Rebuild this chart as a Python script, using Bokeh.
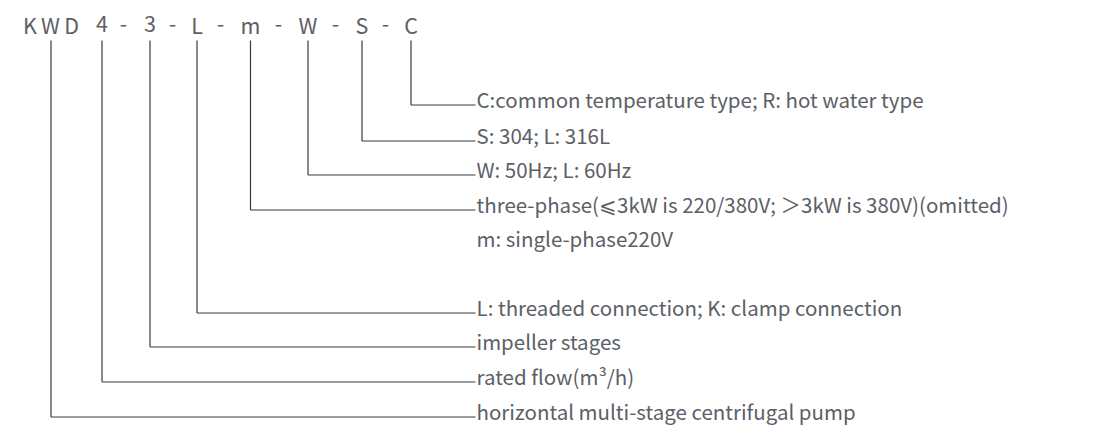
from bokeh.plotting import figure
from bokeh.models import Range1d
from bokeh.core.properties import value
from bokeh.embed import file_html
from bokeh.resources import INLINE

# ---- content ----
codes = ["K\u2009W\u2009D", "4", "3", "L", "m", "W", "S", "C"]
descriptions = [
    "horizontal multi-stage centrifugal pump",
    "rated flow(m\u00b3/h)",
    "impeller stages",
    "L: threaded connection; K: clamp connection",
    "three-phase(\u2a7d3kW is 220/380V; \uff1e3kW is 380V)(omitted)",
    "W: 50Hz; L: 60Hz",
    "S: 304; L: 316L",
    "C:common temperature type; R: hot water type",
]
extra_lines = ["m: single-phase220V"]

# ---- layout (pixel coordinates) ----
code_x = [50.5, 101.5, 149.5, 196.5, 250, 307.5, 361.5, 410.5]
dash_x = [123, 172, 220, 278, 335, 385]
row_y = [416.5, 381.5, 346.5, 312.5, 209.5, 174.5, 140.5, 104.5]
extra_y = [243.5]
title_y = 23.5
line_top = 40
text_x = 476
text_shift = -6.5

FONT = value("Noto Sans CJK SC")
TEXT_COLOR = "#5c6065"
LINE_COLOR = "#3a3a3a"

p = figure(width=1112, height=430, output_backend="svg", toolbar_location=None,
           x_range=Range1d(0, 1112), y_range=Range1d(430, 0),
           min_border=0, outline_line_color=None)
p.axis.visible = False
p.grid.visible = False
p.background_fill_color = "white"
p.border_fill_color = "white"

# code letters
p.text(x=code_x, y=[title_y] * len(codes), text=codes, text_font=FONT,
       text_font_size="21.5px", text_align="center", text_baseline="alphabetic",
       text_color=TEXT_COLOR)
p.text(x=dash_x, y=[title_y] * len(dash_x), text=["-"] * len(dash_x), text_font=FONT,
       text_font_size="21.5px", text_align="center", text_baseline="alphabetic",
       text_color=TEXT_COLOR)

# connectors
p.segment(x0=code_x, y0=[line_top] * len(code_x), x1=code_x, y1=row_y,
          line_color=LINE_COLOR, line_width=1.2)
p.segment(x0=code_x, y0=row_y, x1=[text_x - 1] * len(code_x), y1=row_y,
          line_color=LINE_COLOR, line_width=1.2)

# descriptions
ty = [y + text_shift for y in row_y] + [y + text_shift for y in extra_y]
p.text(x=[text_x] * len(ty), y=ty, text=descriptions + extra_lines, text_font=FONT,
       text_font_size="20.5px", text_align="left", text_baseline="alphabetic",
       text_color=TEXT_COLOR)

open("out.html", "w").write(file_html(p, INLINE))
